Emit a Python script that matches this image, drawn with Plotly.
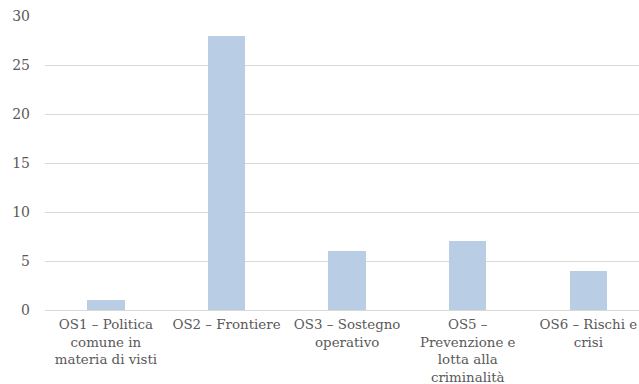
import plotly.graph_objects as go

categories = [
    "OS1 – Politica<br>comune in<br>materia di visti",
    "OS2 – Frontiere",
    "OS3 – Sostegno<br>operativo",
    "OS5 –<br>Prevenzione e<br>lotta alla<br>criminalità",
    "OS6 – Rischi e<br>crisi",
]
values = [1, 28, 6, 7, 4]
y_ticks = [0, 5, 10, 15, 20, 25, 30]

SERIF = "DejaVu Serif"

fig = go.Figure(
    go.Bar(
        x=list(range(len(categories))),
        y=values,
        marker=dict(color="#B9CDE5", line=dict(width=0)),
        width=0.31,
    )
)

fig.update_layout(
    width=639,
    height=384,
    margin=dict(l=45, r=0, t=16, b=74),
    paper_bgcolor="white",
    plot_bgcolor="white",
    font=dict(family=SERIF, size=13.4, color="#595959"),
    showlegend=False,
    bargap=0,
)

fig.update_xaxes(
    tickmode="array",
    tickvals=list(range(len(categories))),
    ticktext=categories,
    range=[-0.505, 4.42],
    showgrid=False,
    showline=False,
    zeroline=False,
    ticks="",
    tickangle=0,
    automargin=False,
    ticklabeloverflow="allow",
    ticklabelstandoff=5,
    tickfont=dict(family=SERIF, size=13.4),
)

fig.update_yaxes(
    range=[0, 30],
    tickvals=y_ticks,
    showgrid=True,
    gridcolor="#D9D9D9",
    gridwidth=1,
    zeroline=True,
    zerolinecolor="#D9D9D9",
    zerolinewidth=1,
    showline=False,
    ticks="",
    automargin=False,
    ticklabelstandoff=14,
    tickfont=dict(family=SERIF, size=14),
)

fig.write_html("out.html")
